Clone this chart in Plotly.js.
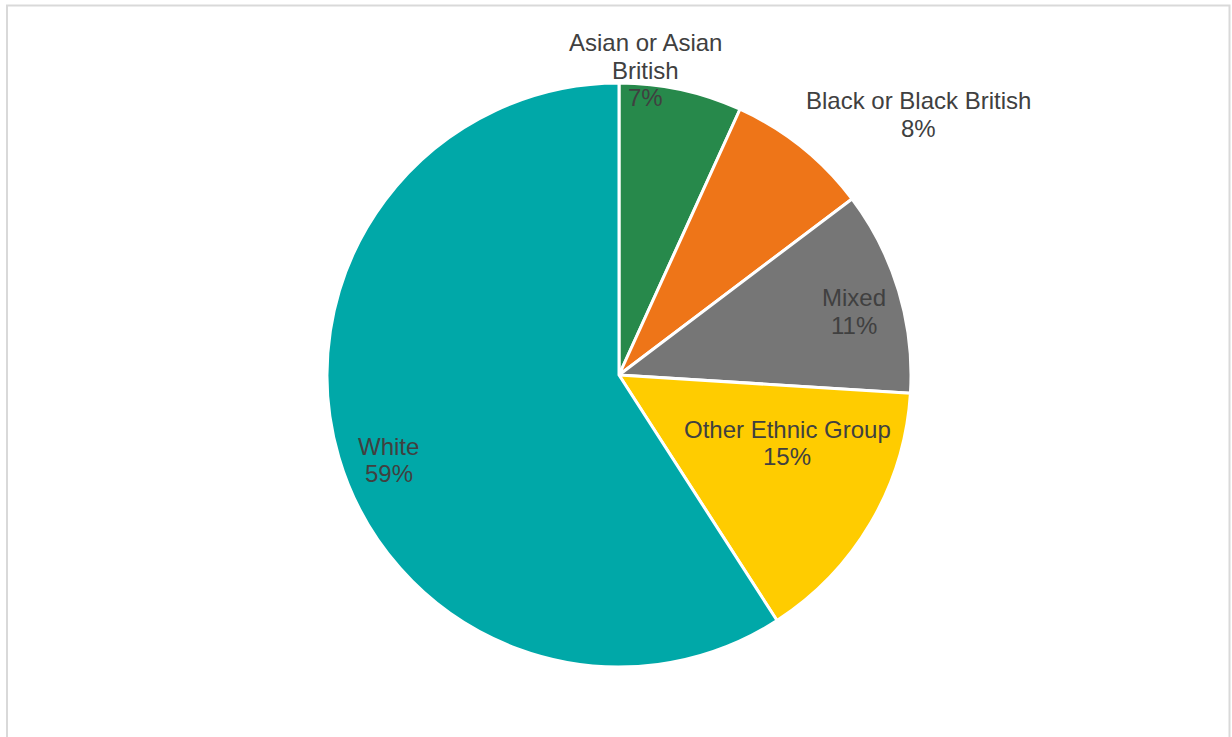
<!DOCTYPE html>
<html>
<head>
<meta charset="utf-8">
<script src="https://cdn.plot.ly/plotly-3.0.1.min.js"></script>
<style>html,body{margin:0;padding:0;background:#fff;}#chart{width:1232px;height:737px;}</style>
</head>
<body>
<div id="chart"></div>
<script>
const categories = ["Asian or Asian British", "Black or Black British", "Mixed", "Other Ethnic Group", "White"];
const values = [6.8, 7.9, 11.3, 14.9, 59.1];
const pctLabels = ["7%", "8%", "11%", "15%", "59%"];
const labelLines = [["Asian or Asian", "British"], ["Black or Black British"], ["Mixed"], ["Other Ethnic Group"], ["White"]];
const colors = ["#27894B", "#EE7518", "#767676", "#FFCC00", "#00A8A8"];

// first-line centre of each label, in pixels
const labelPx = [[645, 43], [918, 101], [854, 298], [787, 429], [389, 446]];
const lineGap = 27.3;

const W = 1232, H = 737;
const cx = 619, cy = 375, r = 292;

const trace = {
  type: "pie",
  labels: categories,
  values: values,
  sort: false,
  direction: "clockwise",
  rotation: 0,
  textinfo: "none",
  hoverinfo: "label+percent",
  marker: {colors: colors, line: {color: "#ffffff", width: 3}},
  domain: {x: [(cx - r) / W, (cx + r) / W], y: [(H - cy - r) / H, (H - cy + r) / H]},
  showlegend: false
};

const annotations = [];
categories.forEach((c, i) => {
  const lines = labelLines[i].concat([pctLabels[i]]);
  lines.forEach((t, j) => {
    annotations.push({
      xref: "paper", yref: "paper",
      x: labelPx[i][0] / W, y: 1 - (labelPx[i][1] + j * lineGap) / H,
      xanchor: "center", yanchor: "middle",
      text: t,
      showarrow: false,
      font: {family: "Liberation Sans, Arial, sans-serif", size: 24, color: "#404040"}
    });
  });
});

const layout = {
  width: W, height: H,
  margin: {l: 0, r: 0, t: 0, b: 0},
  paper_bgcolor: "#ffffff",
  showlegend: false,
  annotations: annotations,
  shapes: [{
    type: "rect", xref: "paper", yref: "paper",
    x0: 7 / W, x1: 1229.5 / W, y0: -0.05, y1: 1 - 5.5 / H,
    line: {color: "#D9D9D9", width: 2}, fillcolor: "rgba(0,0,0,0)", layer: "below"
  }]
};

Plotly.newPlot("chart", [trace], layout, {displayModeBar: false, staticPlot: true});
</script>
</body>
</html>
